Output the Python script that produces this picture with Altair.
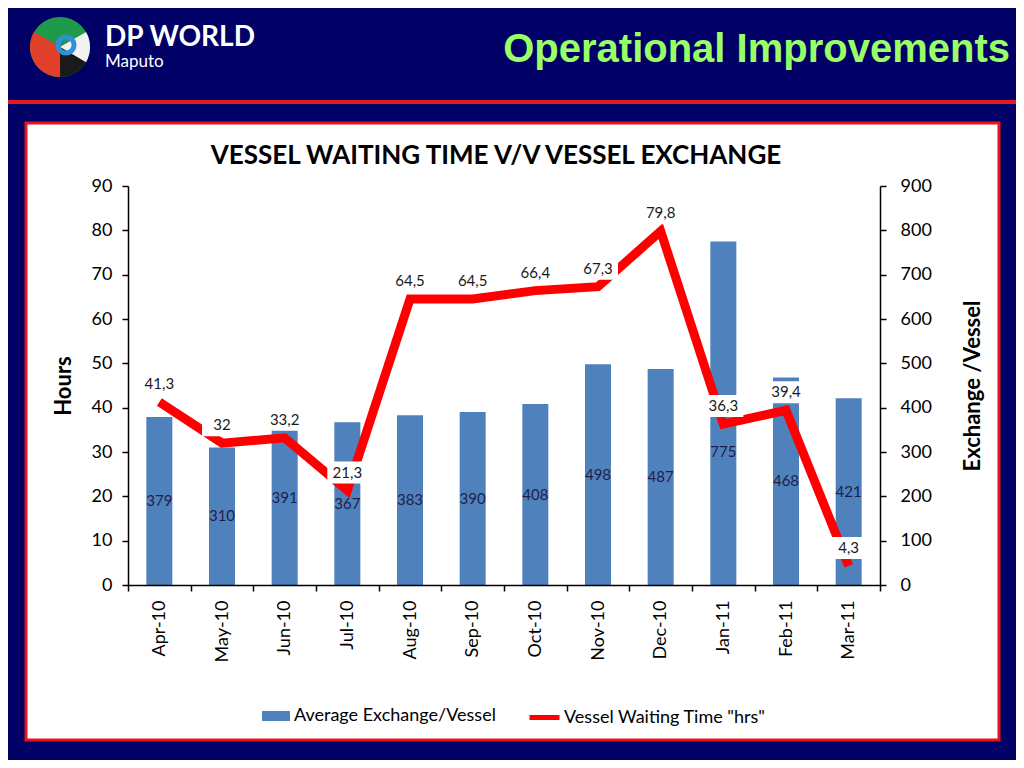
import altair as alt
import pandas as pd

months = ["Apr-10", "May-10", "Jun-10", "Jul-10", "Aug-10", "Sep-10",
          "Oct-10", "Nov-10", "Dec-10", "Jan-11", "Feb-11", "Mar-11"]
exchange = [379, 310, 391, 367, 383, 390, 408, 498, 487, 775, 468, 421]
hours = [41.3, 32, 33.2, 21.3, 64.5, 64.5, 66.4, 67.3, 79.8, 36.3, 39.4, 4.3]

bar_name = "Average Exchange/Vessel"
line_name = 'Vessel Waiting Time "hrs"'
chart_title = "VESSEL WAITING TIME V/V VESSEL EXCHANGE"
slide_title = "Operational Improvements"

FONT = "Lato"

df = pd.DataFrame({"month": months, "exchange": exchange, "hours": hours})
dummy = pd.DataFrame({"d": [0]})

x_enc = alt.X(
    "month:N", sort=months,
    scale=alt.Scale(paddingInner=0, paddingOuter=0),
    axis=alt.Axis(title=None, labelAngle=270, labelFontSize=18, labelFont=FONT,
                  labelColor="black", labelPadding=9, tickBand="extent",
                  tickSize=6, tickColor="black", tickWidth=1.5,
                  domainColor="black", domainWidth=1.5, zindex=2),
)

right_axis = alt.Axis(orient="right", values=list(range(0, 901, 100)),
                      title="Exchange /Vessel", titleAngle=270, titleFont=FONT,
                      titleFontSize=22, titleFontWeight="bold", titleColor="black",
                      titlePadding=53, labelFont=FONT, labelFontSize=18,
                      labelColor="black", labelPadding=14, tickSize=6,
                      tickColor="black", tickWidth=1.5, domainColor="black",
                      domainWidth=1.5, grid=False, zindex=2)
right_scale = alt.Scale(domain=[0, 900], nice=False)

left_axis = alt.Axis(orient="left", values=list(range(0, 91, 10)),
                     title="Hours", titleAngle=270, titleFont=FONT,
                     titleFontSize=22, titleFontWeight="bold", titleColor="black",
                     titlePadding=16, labelFont=FONT, labelFontSize=18,
                     labelColor="black", labelPadding=10, tickSize=6,
                     tickColor="black", tickWidth=1.5, domainColor="black",
                     domainWidth=1.5, grid=False, zindex=2)
left_scale = alt.Scale(domain=[0, 90], nice=False)

base = alt.Chart(df)

bars = base.transform_calculate(series=f"'{bar_name}'").mark_bar(
    width=alt.RelativeBandSize(0.415)
).encode(
    x=x_enc,
    y=alt.Y("exchange:Q", scale=right_scale, axis=right_axis),
    fill=alt.Fill("series:N", scale=alt.Scale(domain=[bar_name], range=["#4F81BD"]),
                  legend=alt.Legend(title=None, orient="none", legendX=138, legendY=520,
                                    symbolType="M-1.4,-0.5H1.4V0.5H-1.4Z", symbolSize=400,
                                    symbolStrokeWidth=0, labelFont=FONT, labelFontSize=18,
                                    labelColor="black", labelOffset=8, labelLimit=400)),
)
bar_labels = base.transform_calculate(
    lab_y="min(datum.exchange / 2, 300)"
).mark_text(font=FONT, fontSize=15, color="#1F1F4A", baseline="middle").encode(
    x=x_enc,
    y=alt.Y("lab_y:Q", scale=right_scale, axis=right_axis),
    text=alt.Text("exchange:Q"),
)
bar_group = alt.layer(bars, bar_labels)

line = base.transform_calculate(series=f"'{line_name}'").mark_line(strokeWidth=9).encode(
    x=x_enc,
    y=alt.Y("hours:Q", scale=left_scale, axis=left_axis),
    stroke=alt.Stroke("series:N", scale=alt.Scale(domain=[line_name], range=["#FF0000"]),
                      legend=alt.Legend(title=None, orient="none", legendX=399, legendY=514,
                                        symbolType="stroke", symbolStrokeWidth=5,
                                        symbolSize=900, labelFont=FONT, labelFontSize=18,
                                        labelColor="black", labelOffset=2, labelLimit=400)),
)
boxes = base.mark_point(shape="M-1,-0.55H1V0.55H-1Z", size=1600, filled=True,
                        color="white", opacity=1, strokeWidth=0, yOffset=-18).encode(
    x=x_enc,
    y=alt.Y("hours:Q", scale=left_scale, axis=left_axis),
)
line_labels = base.transform_calculate(
    hlabel="replace(toString(datum.hours), '.', ',')"
).mark_text(font=FONT, fontSize=15, color="#1A1A1A", baseline="middle", yOffset=-18).encode(
    x=x_enc,
    y=alt.Y("hours:Q", scale=left_scale, axis=left_axis),
    text="hlabel:N",
)
line_group = alt.layer(line, boxes, line_labels)

deco = alt.Chart(dummy)
red_bar = deco.mark_rect(color="#E31B23").encode(
    x=alt.value(-136), x2=alt.value(900), y=alt.value(-86), y2=alt.value(-82))
panel = deco.mark_rect(fill="white", stroke="#E8131B", strokeWidth=3).encode(
    x=alt.value(-102), x2=alt.value(871), y=alt.value(-63), y2=alt.value(554))
big_title = deco.mark_text(text=slide_title, font="Liberation Sans",
                           fontWeight="bold", fontSize=40, color="#99FF66",
                           align="right", baseline="alphabetic").encode(
    x=alt.value(882), y=alt.value(-124))
dp = deco.mark_text(text="DP WORLD", font=FONT, fontWeight="bold", fontSize=28,
                    color="white", align="left", baseline="alphabetic").encode(
    x=alt.value(-23), y=alt.value(-140))
maputo = deco.mark_text(text="Maputo", font=FONT, fontSize=17, color="white",
                        align="left", baseline="alphabetic").encode(
    x=alt.value(-23), y=alt.value(-119))
logo_green = deco.mark_arc(theta=0, theta2=6.2832, outerRadius=30, color="#1E9A4A").encode(
    x=alt.value(-68), y=alt.value(-139))
logo_white = deco.mark_arc(theta=1.05, theta2=2.1, outerRadius=30, color="#F2F2F2").encode(
    x=alt.value(-68), y=alt.value(-139))
logo_black = deco.mark_arc(theta=2.1, theta2=3.14, outerRadius=30, color="#1A1A1A").encode(
    x=alt.value(-68), y=alt.value(-139))
logo_red = deco.mark_arc(theta=3.14, theta2=5.24, outerRadius=30, color="#E2402A").encode(
    x=alt.value(-68), y=alt.value(-139))
logo_knot = deco.mark_point(shape="circle", size=260, filled=False, color="#2F8FD8",
                            strokeWidth=5, opacity=1).encode(
    x=alt.value(-62), y=alt.value(-141))
title_text = deco.mark_text(text=chart_title, font=FONT, fontWeight="bold", fontSize=26,
                            color="black", align="center", baseline="middle").encode(
    x=alt.value(368), y=alt.value(-30))

chart = alt.layer(
    red_bar, panel, big_title, dp, maputo,
    logo_green, logo_white, logo_black, logo_red, logo_knot,
    title_text, bar_group, line_group,
).resolve_scale(y="independent").properties(
    width=752, height=399,
    autosize=alt.AutoSizeParams(type="none"),
    padding={"left": 120, "top": 178, "right": 136, "bottom": 175},
    background="#000066",
).configure_view(stroke=None)

chart.save("out.html", embed_options={"renderer": "svg", "actions": False})
